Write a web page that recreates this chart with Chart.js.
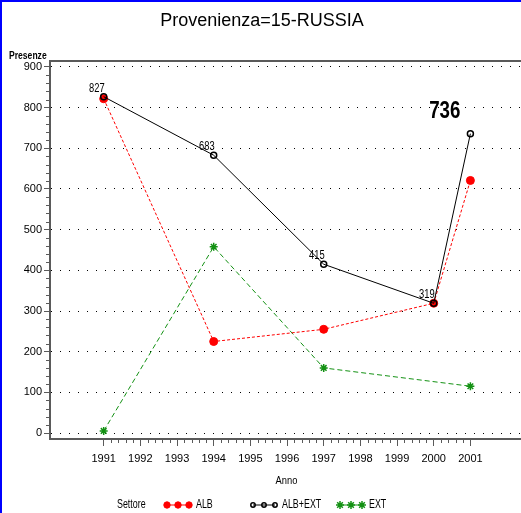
<!DOCTYPE html>
<html>
<head>
<meta charset="utf-8">
<title>Provenienza=15-RUSSIA</title>
<script src="https://cdn.jsdelivr.net/npm/chart.js@4.4.1/dist/chart.umd.min.js"></script>
<style>
  html, body { margin: 0; padding: 0; background: #fff; }
  #wrap { position: relative; width: 521px; height: 513px; }
</style>
</head>
<body>
<div id="wrap"><canvas id="chart" width="521" height="513"></canvas></div>
<script>
// --- Data ---
const anni = [1991, 1994, 1997, 2000, 2001];
const alb = [822, 225, 255, 319, 621];
const albExt = [827, 683, 415, 319, 736];
const ext = [5, 458, 160, null, 115];   // no EXT value shown for 2000
const xTicks = [1991, 1992, 1993, 1994, 1995, 1996, 1997, 1998, 1999, 2000, 2001];
const yTicks = [0, 100, 200, 300, 400, 500, 600, 700, 800, 900];
const labelled = [1991, 1994, 1997, 2000];   // small value labels on ALB+EXT
const bigLabel = 2001;                        // the big bold one

const FONT = '"Liberation Sans", Arial, sans-serif';
const AXIS_GREY = '#5a5a5a';

const toPoints = vals => anni.map((a, i) => ({ x: a, y: vals[i] }));

// squeezed text, the SAS font is narrower than anything installed
function narrowText(ctx, text, x, y, sx) {
    ctx.save();
    ctx.translate(x, y);
    ctx.scale(sx, 1);
    ctx.fillText(text, 0, 0);
    ctx.restore();
}

// --- extra drawing: title, axis titles, minor ticks, legend, labels ---
const extras = {
    id: 'extras',
    afterDraw(chart) {
        const ctx = chart.ctx;
        const xs = chart.scales.x, ys = chart.scales.y;
        const area = chart.chartArea;
        ctx.save();

        // top frame line
        ctx.strokeStyle = AXIS_GREY;
        ctx.lineWidth = 2;
        ctx.beginPath();
        ctx.moveTo(area.left - 1, area.top);
        ctx.lineTo(chart.width, area.top);
        ctx.stroke();

        // minor ticks
        ctx.lineWidth = 1;
        ctx.strokeStyle = AXIS_GREY;
        ctx.beginPath();
        for (let v = 0; v <= 900; v += 20) {
            if (v % 100 === 0) continue;
            const y = Math.round(ys.getPixelForValue(v)) + 0.5;
            ctx.moveTo(area.left - 4, y);
            ctx.lineTo(area.left, y);
        }
        for (let v = 1991; v < 2001; v++) {
            for (let k = 1; k < 5; k++) {
                const x = Math.round(xs.getPixelForValue(v + k / 5)) + 0.5;
                ctx.moveTo(x, area.bottom);
                ctx.lineTo(x, area.bottom + 4);
            }
        }
        ctx.stroke();

        // title
        ctx.fillStyle = '#000';
        ctx.textAlign = 'center';
        ctx.textBaseline = 'middle';
        ctx.font = '18px ' + FONT;
        ctx.fillText('Provenienza=15-RUSSIA', 262, 21);

        // axis titles
        ctx.font = 'bold 11px ' + FONT;
        ctx.textAlign = 'left';
        narrowText(ctx, 'Presenze', 9, 56, 0.78);
        ctx.font = '11px ' + FONT;
        ctx.textAlign = 'center';
        narrowText(ctx, 'Anno', (area.left + area.right) / 2 + 1, 481, 0.85);

        // value labels on ALB+EXT
        ctx.textAlign = 'right';
        ctx.textBaseline = 'alphabetic';
        ctx.font = '12px ' + FONT;
        anni.forEach((a, i) => {
            if (labelled.indexOf(a) < 0) return;
            const px = xs.getPixelForValue(a), py = ys.getPixelForValue(albExt[i]);
            narrowText(ctx, String(albExt[i]), px + 1, py - 5, 0.78);
        });
        const bi = anni.indexOf(bigLabel);
        ctx.font = 'bold 24px ' + FONT;
        narrowText(ctx, String(albExt[bi]), xs.getPixelForValue(bigLabel) - 10,
                   ys.getPixelForValue(albExt[bi]) - 16, 0.78);

        // legend
        const ly = 505;
        ctx.textAlign = 'left';
        ctx.textBaseline = 'middle';
        ctx.font = '12px ' + FONT;
        narrowText(ctx, 'Settore', 117, ly, 0.74);
        chart.data.datasets.forEach((ds, i) => {
            const x0 = [167, 253, 340][i];
            const r = ds.pointStyle === 'star' ? ds.pointRadius : ds.pointRadius - 0.8;
            ctx.save();
            ctx.strokeStyle = ds.borderColor;
            ctx.lineWidth = 1;
            ctx.beginPath();
            ctx.moveTo(x0, ly);
            ctx.lineTo(x0 + 22, ly);
            ctx.stroke();
            for (let k = 0; k < 3; k++) {
                ctx.fillStyle = ds.pointBackgroundColor;
                ctx.strokeStyle = ds.pointBorderColor;
                ctx.lineWidth = ds.pointBorderWidth;
                Chart.helpers.drawPoint(ctx, {
                    pointStyle: ds.pointStyle,
                    radius: r,
                    borderWidth: ds.pointBorderWidth
                }, x0 + k * 11, ly);
            }
            ctx.restore();
            ctx.fillStyle = '#000';
            narrowText(ctx, ds.label, x0 + 29, ly, 0.74);
        });

        // blue frame of the picture
        ctx.fillStyle = '#0000ff';
        ctx.fillRect(0, 0, chart.width, 2);
        ctx.fillRect(0, 0, 2, chart.height);
        ctx.restore();
    }
};

new Chart(document.getElementById('chart').getContext('2d'), {
    type: 'line',
    data: {
        datasets: [
            {
                label: 'ALB',
                data: toPoints(alb),
                borderColor: '#ff0000',
                borderWidth: 1,
                borderDash: [3, 2],
                pointStyle: 'circle',
                pointRadius: 4,
                pointBorderWidth: 1,
                pointBorderColor: '#ff0000',
                pointBackgroundColor: '#ff0000',
                order: 2
            },
            {
                label: 'ALB+EXT',
                data: toPoints(albExt),
                borderColor: '#000000',
                borderWidth: 1,
                pointStyle: 'circle',
                pointRadius: 3,
                pointBorderWidth: 1.5,
                pointBorderColor: '#000000',
                pointBackgroundColor: 'rgba(0,0,0,0)',
                order: 1
            },
            {
                label: 'EXT',
                data: toPoints(ext),
                borderColor: '#139113',
                borderWidth: 1,
                borderDash: [5, 3],
                spanGaps: true,
                pointStyle: 'star',
                pointRadius: 4,
                pointBorderWidth: 1.5,
                pointBorderColor: '#139113',
                pointBackgroundColor: '#139113',
                order: 3
            }
        ]
    },
    options: {
        responsive: false,
        animation: false,
        layout: { autoPadding: false, padding: { top: 61, left: 0, right: 0, bottom: 0 } },
        plugins: {
            legend: { display: false },
            title: { display: false },
            tooltip: { enabled: false }
        },
        scales: {
            x: {
                type: 'linear',
                min: 1989.536,
                max: 2002.38,
                afterBuildTicks: s => { s.ticks = xTicks.map(v => ({ value: v })); },
                afterFit: s => { s.height = 74; },
                ticks: {
                    color: '#000',
                    padding: 6,
                    maxRotation: 0,
                    autoSkip: false,
                    font: { family: FONT, size: 11 },
                    callback: v => String(v)
                },
                grid: {
                    drawOnChartArea: false,
                    drawTicks: true,
                    tickLength: 7,
                    tickColor: AXIS_GREY,
                    tickWidth: 1
                },
                border: { display: true, color: AXIS_GREY, width: 2 }
            },
            y: {
                type: 'linear',
                min: -14.75,
                max: 914.75,
                afterBuildTicks: s => { s.ticks = yTicks.map(v => ({ value: v })); },
                afterFit: s => { s.width = 50; },
                ticks: {
                    color: '#000',
                    padding: 2,
                    font: { family: FONT, size: 11 },
                    callback: v => String(v)
                },
                grid: {
                    color: '#000',
                    lineWidth: 1,
                    drawTicks: true,
                    tickLength: 6,
                    tickColor: AXIS_GREY,
                    tickWidth: 1
                },
                border: { display: true, color: AXIS_GREY, width: 2, dash: [1, 8] }
            }
        }
    },
    plugins: [extras]
});
</script>
</body>
</html>
